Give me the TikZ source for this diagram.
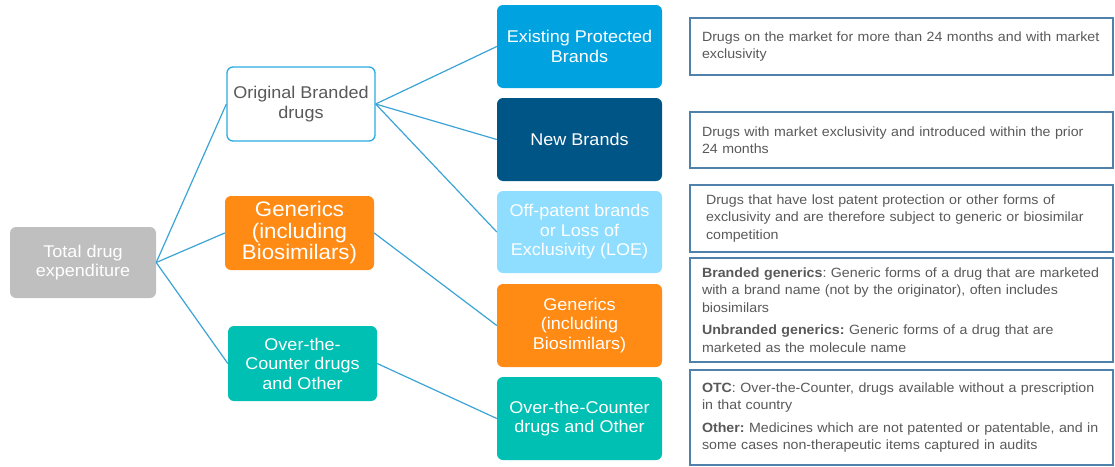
\documentclass[tikz,border=0pt]{standalone}
\usepackage{fontspec}
\setmainfont[FakeStretch=1.06]{Liberation Sans}
\definecolor{cGray}{RGB}{191,191,191}
\definecolor{cBlue}{RGB}{0,163,224}
\definecolor{cDark}{RGB}{0,85,135}
\definecolor{cLight}{RGB}{143,222,255}
\definecolor{cOrange}{RGB}{255,139,21}
\definecolor{cTeal}{RGB}{0,191,179}
\definecolor{cLine}{RGB}{59,163,214}
\definecolor{cOutline}{RGB}{41,171,226}
\definecolor{cDesc}{RGB}{79,129,170}
\definecolor{cText}{RGB}{89,89,89}
\frenchspacing
\begin{document}
\begin{tikzpicture}[x=1pt,y=-1pt,
  catbox/.style={rounded corners=6pt, draw=none, text=white, align=center, inner sep=2pt, font=\fontsize{17}{19.5}\selectfont},
  descbox/.style={draw=cDesc, line width=1.8pt, text=cText, align=left, text width=408pt, inner xsep=7.5pt, inner ysep=2pt,
    font=\fontsize{13.4}{17.5}\selectfont, execute at begin node={\leftskip=4.5pt\relax\hyphenpenalty=10000\relax\frenchspacing}},
  conn/.style={draw=cLine, line width=1.2pt}]
\useasboundingbox (0,0) rectangle (1115,466);
% left column
\node[catbox, fill=cGray, minimum width=146pt, minimum height=71pt] (total) at (83,262.5) {Total drug\\expenditure};
\node[catbox, fill=white, draw=cOutline, line width=1.3pt, text=cText, minimum width=148pt, minimum height=74pt] (ob) at (301,104) {Original Branded\\drugs};
\node[catbox, fill=cOrange, minimum width=149pt, minimum height=74pt, font=\fontsize{21}{21.5}\selectfont] (genl) at (299.5,233) {Generics\\(including\\Biosimilars)};
\node[catbox, fill=cTeal, minimum width=149pt, minimum height=75pt] (otcl) at (302.5,363.5) {Over-the-\\Counter drugs\\and Other};
% right column
\node[catbox, fill=cBlue, minimum width=165pt, minimum height=83pt] (ep) at (579.5,46.5) {Existing Protected\\Brands};
\node[catbox, fill=cDark, minimum width=165pt, minimum height=83pt] (nb) at (579.5,139.5) {New Brands};
\node[catbox, fill=cLight, minimum width=165pt, minimum height=82pt] (op) at (579.5,232) {Off-patent brands\\or Loss of\\Exclusivity (LOE)};
\node[catbox, fill=cOrange, minimum width=165pt, minimum height=83pt] (gr) at (579.5,325.5) {Generics\\(including\\Biosimilars)};
\node[catbox, fill=cTeal, minimum width=165pt, minimum height=83pt] (or) at (579.5,418.5) {Over-the-Counter\\drugs and Other};
% descriptions
\node[descbox, minimum height=57pt] (d1) at (901.5,46.5) {Drugs on the market for more than 24 months and with market\\exclusivity};
\node[descbox, minimum height=56pt] (d2) at (901.5,140) {Drugs with market exclusivity and introduced within the prior\\24 months};
\node[descbox, minimum height=67pt] (d3) at (901.5,218.5) {\hspace*{4pt}Drugs that have lost patent protection or other forms of\\\hspace*{4pt}exclusivity and are therefore subject to generic or biosimilar\\\hspace*{4pt}competition};
\node[descbox, minimum height=104pt] (d4) at (901.5,310) {\textbf{Branded generics}: Generic forms of a drug that are marketed\\with a brand name (not by the originator), often includes\\biosimilars\\[5pt]\textbf{Unbranded generics:} Generic forms of a drug that are\\marketed as the molecule name};
\node[descbox, minimum height=95pt] (d5) at (901.5,417.5) {\textbf{OTC}: Over-the-Counter, drugs available without a prescription\\in that country\\[5pt]\textbf{Other:} Medicines which are not patented or patentable, and in\\some cases non-therapeutic items captured in audits};
% connectors
\draw[conn] (total.east) -- (ob.west);
\draw[conn] (total.east) -- (genl.west);
\draw[conn] (total.east) -- (otcl.west);
\draw[conn] (ob.east) -- (ep.west);
\draw[conn] (ob.east) -- (nb.west);
\draw[conn] (ob.east) -- (op.west);
\draw[conn] (genl.east) -- (gr.west);
\draw[conn] (otcl.east) -- (or.west);
\end{tikzpicture}
\end{document}
